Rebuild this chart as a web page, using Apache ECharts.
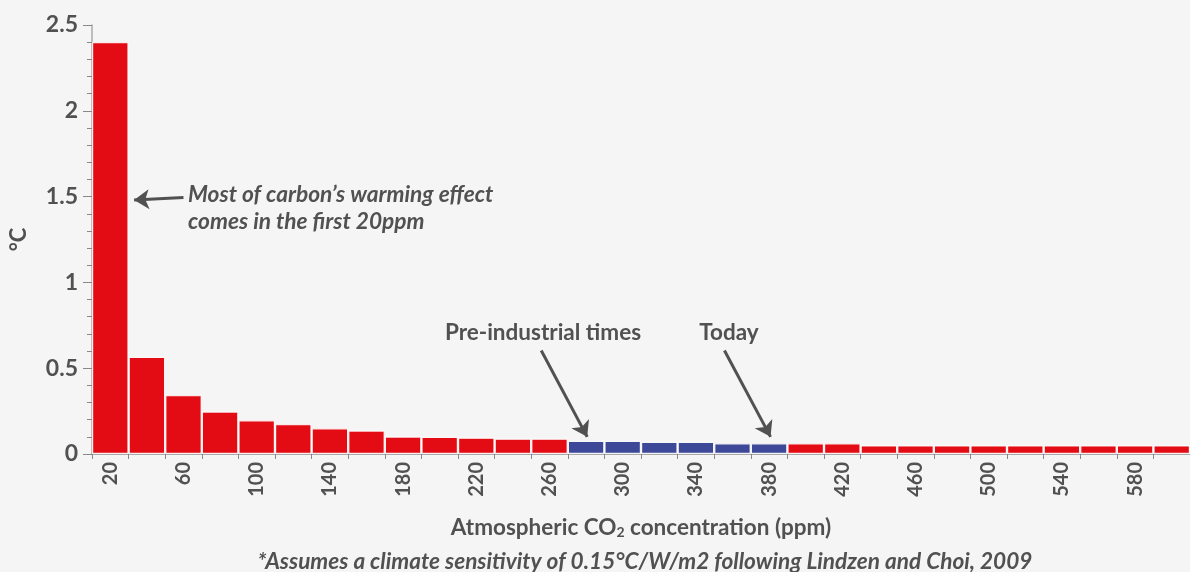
<!DOCTYPE html>
<html>
<head>
<meta charset="utf-8">
<script src="https://cdn.jsdelivr.net/npm/echarts@6/dist/echarts.min.js"></script>
<style>
  html, body { margin: 0; padding: 0; background: #f5f5f5; }
  #main { width: 1190px; height: 572px; }
</style>
</head>
<body>
<div id="main"></div>
<script>
// ---- Data ----
const ppmCategories = [20,40,60,80,100,120,140,160,180,200,220,240,260,280,300,320,340,360,380,400,420,440,460,480,500,520,540,560,580,600];
const warmingValues = [2.4,0.566,0.343,0.248,0.197,0.174,0.15,0.137,0.102,0.1,0.096,0.09,0.09,0.077,0.077,0.071,0.071,0.063,0.063,0.063,0.063,0.05,0.05,0.05,0.05,0.05,0.05,0.05,0.05,0.05];
const highlightedPpm = [280,300,320,340,360,380];
const yTickValues = [0,0.5,1,1.5,2,2.5];
// Annotation arrows in data space: [ppm, °C]
const arrowCarbon = [[60, 1.495], [33, 1.48]];
const arrowPreIndustrial = [[255.5, 0.603], [280.6, 0.1]];
const arrowToday = [[355.6, 0.603], [380.8, 0.1]];

const RED = '#e30c15';
const BLUE = '#3d4898';
const TEXT = '#515151';
const FONT = 'Lato, "Open Sans", sans-serif';

const chart = echarts.init(document.getElementById('main'));

const barData = ppmCategories.map((p, i) => ({
  value: warmingValues[i],
  itemStyle: { color: highlightedPpm.includes(p) ? BLUE : RED }
}));

chart.setOption({
  backgroundColor: '#f5f5f5',
  animation: false,
  textStyle: { fontFamily: FONT },
  grid: { left: 90, right: -10, top: 25, bottom: 118, containLabel: false },
  xAxis: [{
    type: 'category',
    data: ppmCategories.map(String),
    boundaryGap: true,
    axisLine: { lineStyle: { color: '#aaaaaa', width: 2 } },
    axisTick: { show: true, interval: 0, length: 5, lineStyle: { color: '#888888', width: 1 } },
    axisLabel: { interval: 1, rotate: 90, margin: 8, color: TEXT, fontSize: 20, fontWeight: 'bold', fontFamily: FONT },
    name: 'Atmospheric CO{sub|2} concentration (ppm)',
    nameLocation: 'middle',
    nameGap: 62,
    nameTextStyle: {
      color: TEXT, fontSize: 22.5, fontWeight: 'bold', fontFamily: FONT,
      rich: { sub: { fontSize: 14, fontWeight: 'bold', color: TEXT, fontFamily: FONT, verticalAlign: 'bottom', padding: [9, 0, 0, 0] } }
    }
  }, {
    type: 'value',
    min: 10, max: 610,
    show: false
  }],
  yAxis: {
    type: 'value',
    min: yTickValues[0],
    max: yTickValues[yTickValues.length - 1],
    interval: 0.5,
    axisLine: { show: true, lineStyle: { color: '#aaaaaa', width: 1.5 } },
    axisTick: { show: true, length: 9, lineStyle: { color: '#888888' } },
    minorTick: { show: true, splitNumber: 5, length: 5, lineStyle: { color: '#888888' } },
    splitLine: { show: false },
    axisLabel: { color: TEXT, fontSize: 23, fontWeight: 'bold', fontFamily: FONT, margin: 14 },
    name: '°C',
    nameLocation: 'middle',
    nameGap: 62,
    nameTextStyle: { color: TEXT, fontSize: 22, fontWeight: 'bold', fontFamily: FONT }
  },
  series: [{
    type: 'bar',
    xAxisIndex: 0,
    data: barData,
    barCategoryGap: '0%',
    itemStyle: { borderColor: 'rgba(255,255,255,0.9)', borderWidth: 1.2 }
  }, {
    type: 'lines',
    coordinateSystem: 'cartesian2d',
    xAxisIndex: 1,
    yAxisIndex: 0,
    symbol: ['none', 'arrow'],
    symbolSize: [0, 15],
    lineStyle: { color: TEXT, width: 3, opacity: 1 },
    data: [
      { coords: arrowCarbon },
      { coords: arrowPreIndustrial },
      { coords: arrowToday }
    ],
    z: 5
  }],
  graphic: [
    { type: 'text', left: 188, top: 181, style: { text: 'Most of carbon’s warming effect\ncomes in the first 20ppm', fill: TEXT, font: 'italic bold 22.7px ' + FONT, lineHeight: 27 } },
    { type: 'text', x: 543, y: 333, style: { text: 'Pre-industrial times', fill: TEXT, font: 'bold 22.5px ' + FONT, align: 'center', verticalAlign: 'middle' } },
    { type: 'text', x: 729, y: 333, style: { text: 'Today', fill: TEXT, font: 'bold 22.5px ' + FONT, align: 'center', verticalAlign: 'middle' } },
    { type: 'text', x: 645, y: 562, style: { text: '*Assumes a climate sensitivity of 0.15°C/W/m2 following Lindzen and Choi, 2009', fill: TEXT, font: 'italic bold 22.6px ' + FONT, align: 'center', verticalAlign: 'middle' } }
  ]
});
</script>
</body>
</html>
